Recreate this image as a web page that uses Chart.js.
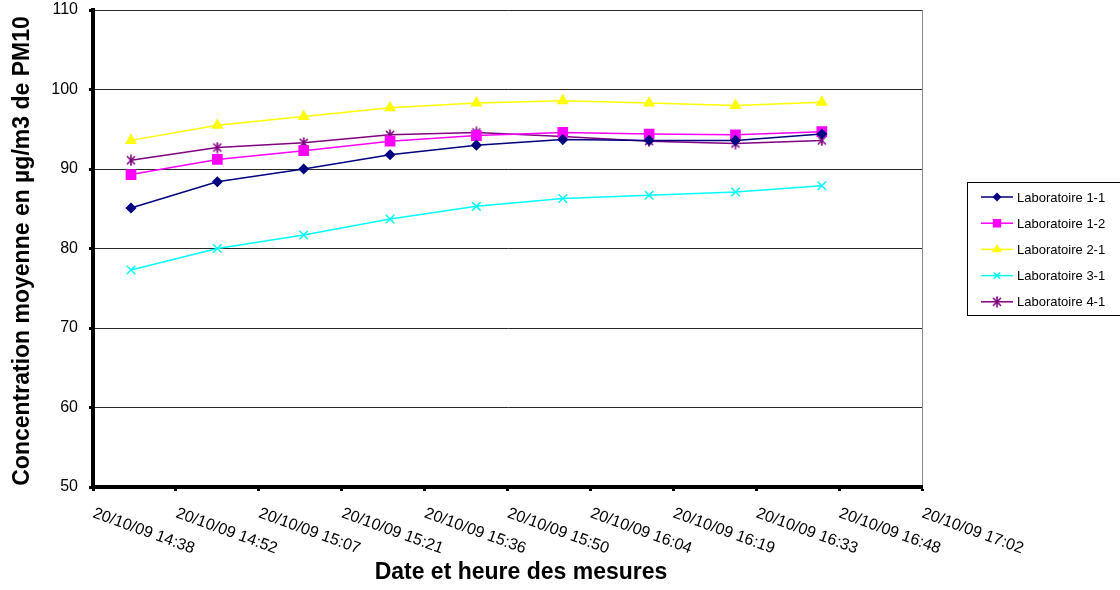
<!DOCTYPE html>
<html>
<head>
<meta charset="utf-8">
<script src="https://cdn.jsdelivr.net/npm/chart.js@4.4.1/dist/chart.umd.min.js"></script>
<style>
    html, body { margin: 0; padding: 0; background: #fff; }
    #wrap { width: 1120px; height: 590px; }
</style>
</head>
<body>
<div id="wrap"><canvas id="myChart" width="1120" height="590"></canvas></div>
<script>
// measurement times (20/10/09) and mean PM10 per lab
const measureTimes = ["14:45", "15:00", "15:15", "15:30", "15:45", "16:00", "16:15", "16:30", "16:45"];
const lab11 = [85.1, 88.4, 90.0, 91.8, 93.0, 93.7, 93.6, 93.6, 94.4];
const lab12 = [89.3, 91.2, 92.3, 93.5, 94.2, 94.6, 94.4, 94.3, 94.7];
const lab21 = [93.6, 95.5, 96.6, 97.7, 98.3, 98.6, 98.3, 98.0, 98.4];
const lab31 = [77.3, 80.0, 81.7, 83.7, 85.3, 86.3, 86.7, 87.1, 87.9];
const lab41 = [91.1, 92.7, 93.3, 94.3, 94.6, 94.1, 93.5, 93.2, 93.6];

// date axis: one tick every 0.01 day
const tickDays = [0.61, 0.62, 0.63, 0.64, 0.65, 0.66, 0.67, 0.68, 0.69, 0.70, 0.71];
const tickLabels = ["20/10/09 14:38", "20/10/09 14:52", "20/10/09 15:07", "20/10/09 15:21",
    "20/10/09 15:36", "20/10/09 15:50", "20/10/09 16:04", "20/10/09 16:19",
    "20/10/09 16:33", "20/10/09 16:48", "20/10/09 17:02"];

const FONT = '"Liberation Sans", Arial, sans-serif';

function toMinutes(t){
    let parts = t.split(":");
    return parseInt(parts[0]) * 60 + parseInt(parts[1]);
}

function points(values){
    return values.map((v, i) => ({x: toMinutes(measureTimes[i]), y: v}));
}

// excel-like asterisk marker (x with a vertical bar)
function asteriskMarker(color){
    const c = document.createElement("canvas");
    c.width = 12; c.height = 12;
    const g = c.getContext("2d");
    g.strokeStyle = color;
    g.lineWidth = 1.6;
    g.beginPath();
    g.moveTo(2, 2); g.lineTo(10, 10);
    g.moveTo(10, 2); g.lineTo(2, 10);
    g.moveTo(6, 0.5); g.lineTo(6, 11.5);
    g.stroke();
    return c;
}

function series(label, values, color, style, radius){
    return {
        label: label,
        data: points(values),
        borderColor: color,
        backgroundColor: color,
        pointBackgroundColor: color,
        pointBorderColor: color,
        borderWidth: 1.5,
        pointStyle: style,
        pointRadius: radius,
        pointBorderWidth: 1.5,
        tension: 0
    };
}

const datasets = [
    series("Laboratoire 1-1", lab11, "#000080", "rectRot", 4.5),
    series("Laboratoire 1-2", lab12, "#FF00FF", "rect", 6.5),
    series("Laboratoire 2-1", lab21, "#FFFF00", "triangle", 5.5),
    series("Laboratoire 3-1", lab31, "#00FFFF", "crossRot", 6),
    series("Laboratoire 4-1", lab41, "#800080", asteriskMarker("#800080"), 6)
];

// slanted date labels, axis titles and boxed legend
const decor = {
    id: "decor",
    afterDraw(chart){
        const ctx = chart.ctx;
        const xs = chart.scales.x;
        ctx.save();
        ctx.fillStyle = "#000";

        ctx.font = "16px " + FONT;
        ctx.textAlign = "left";
        ctx.textBaseline = "alphabetic";
        tickDays.forEach((d, i) => {
            const px = xs.getPixelForValue(d * 1440);
            ctx.save();
            ctx.translate(px - 1, 517);
            ctx.rotate(20 * Math.PI / 180);
            ctx.fillText(tickLabels[i], 0, 0);
            ctx.restore();
        });

        ctx.font = "bold 23px " + FONT;
        ctx.textAlign = "center";
        ctx.fillText("Date et heure des mesures", 521, 579);

        ctx.save();
        ctx.translate(29, 251);
        ctx.rotate(-Math.PI / 2);
        ctx.fillText("Concentration moyenne en µg/m3 de PM10", 0, 0);
        ctx.restore();

        // legend
        ctx.strokeStyle = "#000";
        ctx.lineWidth = 1;
        ctx.strokeRect(967.5, 182.5, 200, 133);
        ctx.font = "13px " + FONT;
        ctx.textAlign = "left";
        ctx.textBaseline = "middle";
        chart.data.datasets.forEach((ds, i) => {
            const y = 197 + i * 26.2;
            ctx.strokeStyle = ds.borderColor;
            ctx.lineWidth = 1.5;
            ctx.beginPath();
            ctx.moveTo(981, y);
            ctx.lineTo(1013, y);
            ctx.stroke();
            ctx.fillStyle = ds.pointBackgroundColor;
            ctx.strokeStyle = ds.pointBorderColor;
            Chart.helpers.drawPoint(ctx, {
                pointStyle: ds.pointStyle,
                radius: ds.pointRadius * 0.75,
                rotation: 0,
                borderWidth: 1.2
            }, 997, y);
            ctx.fillStyle = "#000";
            ctx.fillText(ds.label, 1017, y + 1);
        });
        ctx.restore();
    }
};

const ctx = document.getElementById("myChart").getContext("2d");
const myChart = new Chart(ctx, {
    type: "line",
    data: { datasets: datasets },
    options: {
        responsive: false,
        devicePixelRatio: 1,
        animation: false,
        layout: { padding: { top: 10, right: 198, left: 0, bottom: 0 } },
        plugins: {
            legend: { display: false },
            tooltip: { enabled: false }
        },
        scales: {
            x: {
                type: "linear",
                min: 878.4,
                max: 1022.4,
                afterBuildTicks: function(scale){
                    scale.ticks = tickDays.map(d => ({ value: d * 1440 }));
                },
                afterFit: function(scale){
                    scale.height = 103;
                    scale.paddingLeft = 0;
                    scale.paddingRight = 0;
                },
                ticks: { display: false },
                grid: {
                    drawOnChartArea: true,
                    color: c => c.index === tickDays.length - 1 ? "#8c8c8c" : "rgba(0,0,0,0)",
                    lineWidth: 1,
                    tickLength: 4,
                    tickColor: "#000",
                    tickWidth: 3
                },
                border: { color: "#000", width: 4 }
            },
            y: {
                min: 50,
                max: 110,
                afterFit: function(scale){
                    scale.width = 93;
                    scale.paddingTop = 0;
                    scale.paddingBottom = 0;
                },
                ticks: {
                    stepSize: 10,
                    color: "#000",
                    padding: 11,
                    font: { family: FONT, size: 16 }
                },
                grid: {
                    color: "#2a2a2a",
                    lineWidth: 1,
                    tickLength: 4,
                    tickColor: "#000",
                    tickWidth: 3
                },
                border: { color: "#000", width: 4 }
            }
        }
    },
    plugins: [decor]
});
</script>
</body>
</html>
